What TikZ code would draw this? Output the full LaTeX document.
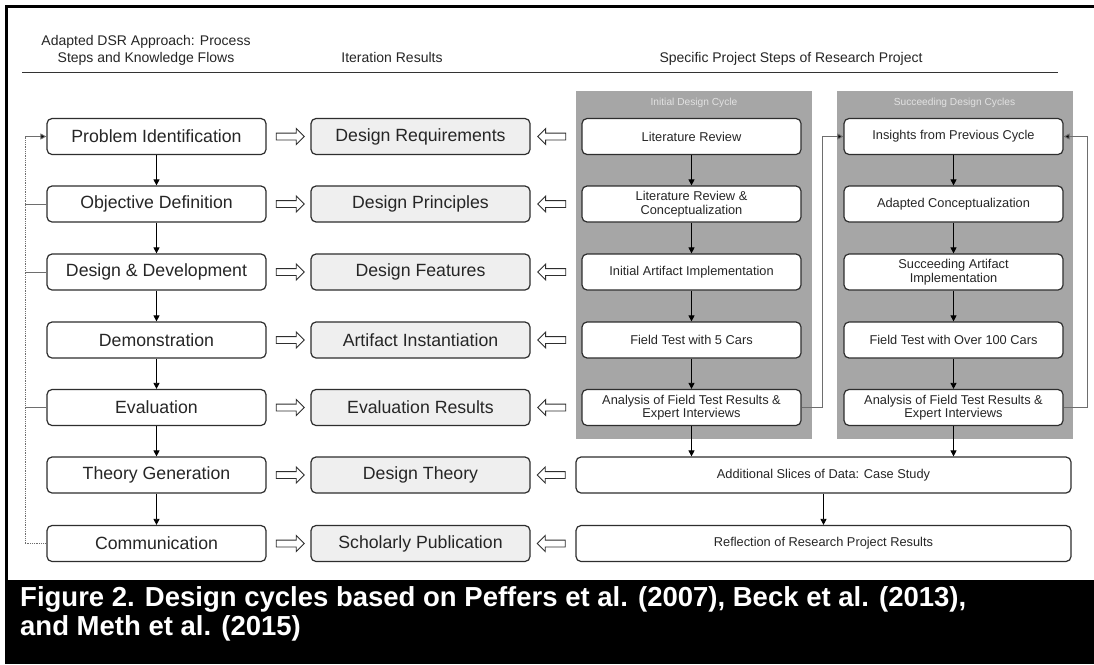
\documentclass[tikz,border=0pt]{standalone}
\usepackage{fontspec}
\setmainfont{Liberation Sans}
\usetikzlibrary{arrows.meta,shapes.arrows,calc}
\definecolor{panelgray}{HTML}{A6A6A6}
\definecolor{resgray}{HTML}{EFEFEF}
\definecolor{boxline}{HTML}{2E2E2E}
\definecolor{fbgray}{HTML}{6E6E6E}
\definecolor{titlegray}{HTML}{E2E2E2}
\begin{document}
\begin{tikzpicture}[x=1pt,y=-1pt,
  stepbox/.style={draw=boxline, line width=1.2pt, rounded corners=5pt, fill=white,
    minimum width=219pt, minimum height=36pt, inner sep=0pt,
    font=\fontsize{17.7}{20}\selectfont, align=center, text=black!85},
  resbox/.style={stepbox, fill=resgray},
  projbox/.style={stepbox, font=\fontsize{12.8}{13.6}\selectfont},
  widebox/.style={projbox, minimum width=495pt},
  panelbox/.style={fill=panelgray, draw=none, inner sep=0pt, minimum width=236pt, minimum height=348pt},
  paneltitle/.style={text=titlegray, font=\fontsize{10.2}{12}\selectfont, inner sep=0pt},
  hdr/.style={font=\fontsize{14}{17}\selectfont, inner sep=0pt, text=black!85},
  flow/.style={draw=black, line width=0.8pt, -{Triangle[length=6pt,width=6pt]}},
  fbline/.style={draw=fbgray, line width=0.9pt},
  fbarrow/.style={fbline, -{Triangle[length=6pt,width=6pt]}, arrows={-{Triangle[length=6pt,width=6pt,fill=black]}}},
  hollowR/.style={single arrow, draw=boxline, line width=0.9pt, fill=white,
    minimum height=28pt, inner sep=3pt, single arrow head extend=4.5pt, single arrow tip angle=90},
  hollowL/.style={hollowR, shape border rotate=180},
  caption/.style={text=white, font=\fontsize{27.5}{30}\selectfont\bfseries, inner sep=0pt, anchor=base west}
]
\useasboundingbox (0,0) rectangle (1094,664);
\fill[white] (0,0) rectangle (1094,664);

% frame and caption band
\draw[line width=3pt] (6.5,580) -- (6.5,6) -- (1094,6);
\fill[black] (5,580) rectangle (1094,664);
\node[caption] (cap1) at (20,606) {Figure 2. Design cycles based on Peffers et al. (2007), Beck et al. (2013),};
\node[caption] (cap2) at (20,635) {and Meth et al. (2015)};

% headers
\node[hdr, anchor=base] (h1a) at (146,45) {Adapted DSR Approach: Process};
\node[hdr, anchor=base] (h1b) at (146,62) {Steps and Knowledge Flows};
\node[hdr, anchor=base] (h2) at (392,62) {Iteration Results};
\node[hdr, anchor=base] (h3) at (791,62) {Specific Project Steps of Research Project};
\coordinate (rulel) at (22,72);
\coordinate (ruler) at (1058,72);
\draw[line width=1pt, black!80] (rulel) -- (ruler);

% panels
\node[panelbox] (p1) at (694,265) {};
\node[panelbox] (p2) at (954.5,265) {};
\node[paneltitle] (t1) at (694,103) {Initial Design Cycle};
\node[paneltitle] (t2) at (954.5,103) {Succeeding Design Cycles};

% left column
\node[stepbox] (pi) at (156.5,136.5) {Problem Identification};
\node[stepbox] (od) at (156.5,204) {Objective Definition};
\node[stepbox] (dd) at (156.5,272) {Design \& Development};
\node[stepbox] (dm) at (156.5,340) {Demonstration};
\node[stepbox] (ev) at (156.5,407.5) {Evaluation};
\node[stepbox] (tg) at (156.5,475) {Theory Generation};
\node[stepbox] (cm) at (156.5,543.5) {Communication};

% middle column
\node[resbox] (r1) at (420.5,136.5) {Design Requirements};
\node[resbox] (r2) at (420.5,204) {Design Principles};
\node[resbox] (r3) at (420.5,272) {Design Features};
\node[resbox] (r4) at (420.5,340) {Artifact Instantiation};
\node[resbox] (r5) at (420.5,407.5) {Evaluation Results};
\node[resbox] (r6) at (420.5,475) {Design Theory};
\node[resbox] (r7) at (420.5,543.5) {Scholarly Publication};

% initial design cycle
\node[projbox] (i1) at (691.5,136.5) {Literature Review};
\node[projbox] (i2) at (691.5,204) {Literature Review \&\\Conceptualization};
\node[projbox] (i3) at (691.5,272) {Initial Artifact Implementation};
\node[projbox] (i4) at (691.5,340) {Field Test with 5 Cars};
\node[projbox] (i5) at (691.5,407.5) {Analysis of Field Test Results \&\\Expert Interviews};

% succeeding design cycles
\node[projbox] (s1) at (953.5,136.5) {Insights from Previous Cycle};
\node[projbox] (s2) at (953.5,204) {Adapted Conceptualization};
\node[projbox] (s3) at (953.5,272) {Succeeding Artifact\\Implementation};
\node[projbox] (s4) at (953.5,340) {Field Test with Over 100 Cars};
\node[projbox] (s5) at (953.5,407.5) {Analysis of Field Test Results \&\\Expert Interviews};

% wide boxes
\node[widebox] (ad) at (823.5,475) {Additional Slices of Data: Case Study};
\node[widebox] (rf) at (823.5,543.5) {Reflection of Research Project Results};

% hollow arrows
\foreach \a/\b/\n in {pi/r1/1, od/r2/2, dd/r3/3, dm/r4/4, ev/r5/5, tg/r6/6, cm/r7/7}{
  \node[hollowR] (ha\n) at ($(\a.east)!0.5!(\b.west)$) {};
}
\foreach \a/\b/\n in {r1/i1/1, r2/i2/2, r3/i3/3, r4/i4/4, r5/i5/5}{
  \node[hollowL] (hb\n) at ($(\a.east)!0.45!(\b.west)$) {};
}
\node[hollowL] (hb6) at ($(r6.east)!0.5!(ad.west)$) {};
\node[hollowL] (hb7) at ($(r7.east)!0.5!(rf.west)$) {};

% vertical flows
\draw[flow] (pi) -- (od);
\draw[flow] (od) -- (dd);
\draw[flow] (dd) -- (dm);
\draw[flow] (dm) -- (ev);
\draw[flow] (ev) -- (tg);
\draw[flow] (tg) -- (cm);
\draw[flow] (i1) -- (i2);
\draw[flow] (i2) -- (i3);
\draw[flow] (i3) -- (i4);
\draw[flow] (i4) -- (i5);
\draw[flow] (s1) -- (s2);
\draw[flow] (s2) -- (s3);
\draw[flow] (s3) -- (s4);
\draw[flow] (s4) -- (s5);
\draw[flow] (i5.south) -- (i5.south |- ad.north);
\draw[flow] (s5.south) -- (s5.south |- ad.north);
\draw[flow] (ad) -- (rf);

% left feedback
\coordinate (lx) at (25,0);
\draw[fbgray, line width=0.8pt, densely dotted] (lx |- pi.west) -- (lx |- cm.west) -- (cm.west);
\draw[fbline, -{Triangle[length=6pt,width=6pt,fill=black]}] (lx |- pi.west) -- (pi.west);
\draw[fbline] (od.west) -- (lx |- od.west);
\draw[fbline] (dd.west) -- (lx |- dd.west);
\draw[fbline] (ev.west) -- (lx |- ev.west);

% right feedback
\coordinate (rx1) at (822,0);
\coordinate (rx2) at (1087,0);
\draw[fbline, -{Triangle[length=6pt,width=6pt,fill=black]}] (i5.east) -- (rx1 |- i5.east) -- (rx1 |- s1.west) -- (s1.west);
\draw[fbline, -{Triangle[length=6pt,width=6pt,fill=black]}] (s5.east) -- (rx2 |- s5.east) -- (rx2 |- s1.east) -- (s1.east);
\end{tikzpicture}
\end{document}
